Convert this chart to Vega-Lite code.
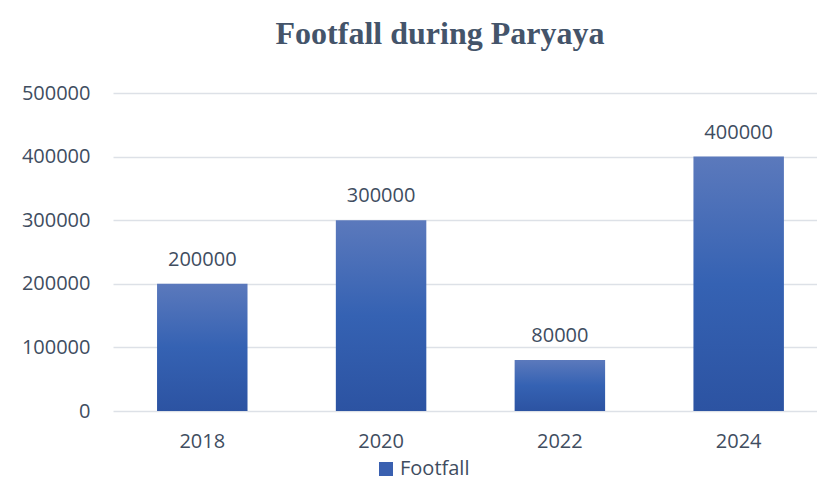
{
  "$schema": "https://vega.github.io/schema/vega-lite/v6.json",
  "width": 704,
  "height": 318,
  "autosize": {"type": "none"},
  "padding": {"left": 113, "top": 93, "right": 0, "bottom": 85},
  "background": "white",
  "title": {
    "text": "Footfall during Paryaya",
    "font": "Liberation Serif",
    "fontSize": 32,
    "fontWeight": "bold",
    "color": "#44546a",
    "anchor": "middle",
    "dx": -25,
    "baseline": "alphabetic",
    "offset": 7
  },
  "data": {
    "values": [
      {"year": "2018", "footfall": 200000, "series": "Footfall"},
      {"year": "2020", "footfall": 300000, "series": "Footfall"},
      {"year": "2022", "footfall": 80000, "series": "Footfall"},
      {"year": "2024", "footfall": 400000, "series": "Footfall"}
    ]
  },
  "encoding": {
    "x": {
      "field": "year",
      "type": "ordinal",
      "scale": {"paddingInner": 0.494, "paddingOuter": 0.2157, "align": 0.571},
      "axis": {
        "title": null,
        "labelAngle": 0,
        "domain": false,
        "ticks": false,
        "tickSize": 0,
        "labelPadding": 20,
        "labelFont": "Open Sans",
        "labelFontSize": 20,
        "labelColor": "#404d5f",
        "grid": false
      }
    },
    "y": {
      "field": "footfall",
      "type": "quantitative",
      "scale": {"domain": [0, 500000], "nice": false},
      "axis": {
        "title": null,
        "values": [0, 100000, 200000, 300000, 400000, 500000],
        "format": "d",
        "domain": false,
        "ticks": false,
        "tickSize": 0,
        "labelPadding": 23,
        "labelFont": "Open Sans",
        "labelFontSize": 20,
        "labelColor": "#404d5f",
        "gridColor": "#dde1e7",
        "gridWidth": 1.5
      }
    }
  },
  "layer": [
    {
      "mark": {
        "type": "bar",
        "fill": {
          "gradient": "linear",
          "x1": 0, "y1": 0, "x2": 0, "y2": 1,
          "stops": [
            {"offset": 0, "color": "#5b79bc"},
            {"offset": 0.5, "color": "#3562b3"},
            {"offset": 1, "color": "#2c53a2"}
          ]
        }
      }
    },
    {
      "mark": {
        "type": "text",
        "baseline": "alphabetic",
        "dy": -18,
        "font": "Open Sans",
        "fontSize": 20,
        "color": "#404d5f"
      },
      "encoding": {
        "text": {"field": "footfall", "type": "quantitative", "format": "d"}
      }
    },
    {
      "mark": {"type": "square", "opacity": 0},
      "encoding": {
        "color": {
          "field": "series",
          "type": "nominal",
          "scale": {"range": ["#3a60b0"]},
          "legend": {
            "title": null,
            "orient": "none",
            "legendX": 263,
            "legendY": 366,
            "symbolType": "square",
            "symbolSize": 196,
            "symbolOpacity": 1,
            "symbolStrokeWidth": 0,
            "labelFont": "Open Sans",
            "labelFontSize": 20,
            "labelColor": "#404d5f",
            "labelOffset": 4
          }
        }
      }
    }
  ],
  "config": {
    "view": {"stroke": null}
  }
}
